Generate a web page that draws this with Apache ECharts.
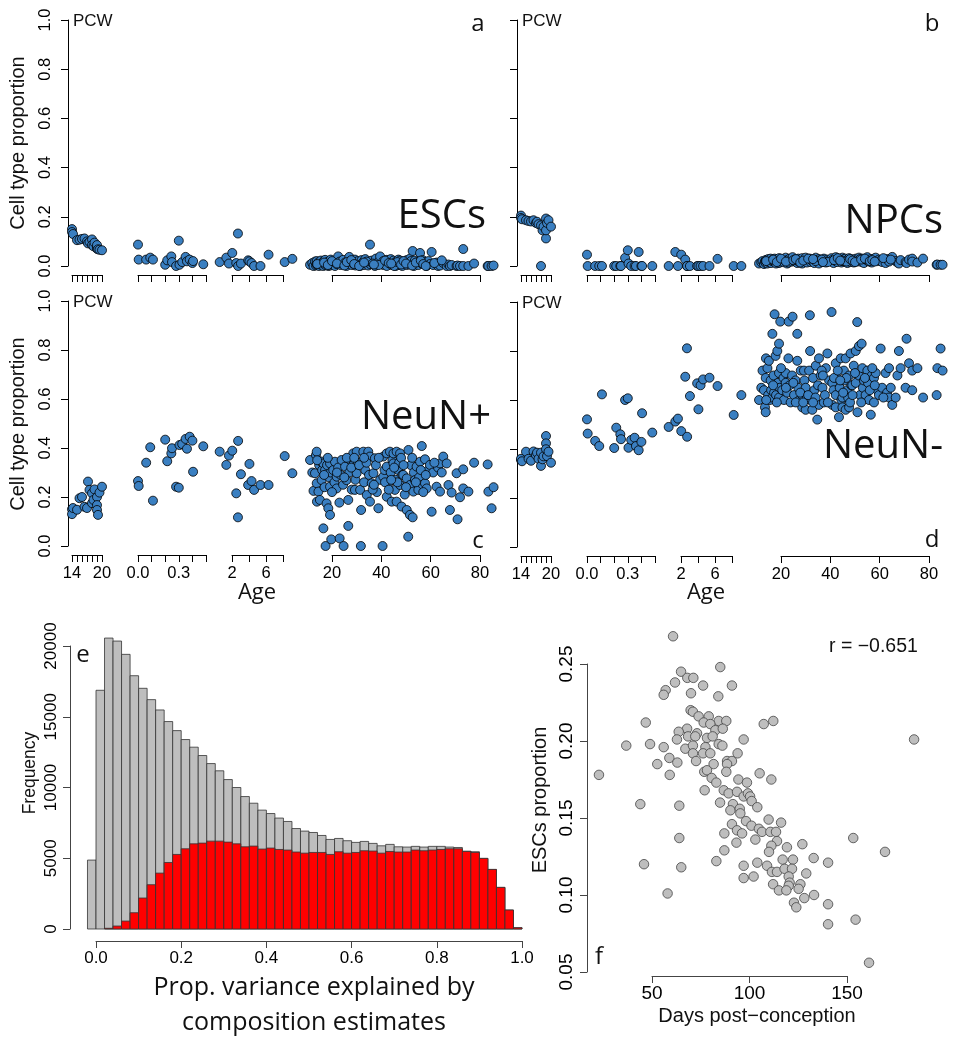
<!DOCTYPE html>
<html><head><meta charset="utf-8">
<script src="https://cdn.jsdelivr.net/npm/echarts@6/dist/echarts.min.js"></script>
<style>html,body{margin:0;padding:0;background:#fff}#chart{width:967px;height:1050px}</style>
</head><body><div id="chart"></div>
<script>
// ---------- Panels a-d : sample ages per age segment ----------
const pcwAge = [14, 14, 14.2, 15, 15.5, 16, 16.5, 17, 17.2, 17.5, 18, 18, 18.3, 18.5, 19, 19, 19, 19.2, 19.5, 20];
const infAge = [0.0, 0.005, 0.06, 0.09, 0.11, 0.2, 0.215, 0.245, 0.25, 0.28, 0.3, 0.305, 0.325, 0.35, 0.36, 0.38, 0.4, 0.405, 0.48];
const childAge = [0.55, 1.33, 1.64, 2.03, 2.5, 2.7, 2.72, 3.05, 3.9, 4.05, 4.3, 4.6, 5.35, 6.3, 8.2, 9.1];
const adultAge = [11.1,12.0,12.5,13.1,13.5,13.8,13.8,13.9,14.5,14.8, 15.1,15.5,15.8,16.0,16.5,16.5,17.0,17.2,17.8,17.4,
 18.0,18.5,18.8,19.2,19.2,19.2,19.5,19.7,20.5,21.0, 21.2,21.9,21.9,22.5,23.0,23.5,23.1,23.9,24.5,24.7,
 25.3,25.9,26.6,26.6,27.0,27.5,28.0,28.6,28.6,29.3, 29.5,30.0,30.0,30.5,31.4,31.8,32.0,31.7,32.7,33.0,
 33.5,34.1,34.7,35.0,35.4,35.4,36.1,36.8,37.4,37.8, 38.2,38.8,39.5,40.5,40.8,40.8,41.3,42.2,42.2,42.2,
 42.8,43.5,43.8,44.2,44.5,44.9,44.9,45.5,45.8,46.2, 46.2,46.9,47.2,47.6,47.6,48.2,48.5,48.9,49.5,50.3,
 50.3,50.9,51.0,51.6,51.6,52.0,52.7,53.0,53.2,53.6, 54.3,55.0,55.3,55.7,56.4,56.8,57.7,57.7,58.4,59.1,
 59.7,60.4,61.0,62.4,63.0,63.8,63.8,65.1,66.5,67.2, 67.8,68.5,70.5,70.9,71.9,73.2,73.2,75.3,77.6,83.1,
 83.4,84.7,14.0,16.8,18.3,20.0,22.0,25.0,26.0,27.8, 29.0,31.0,34.0,36.5,39.0,41.5,43.0,45.2,46.5,48.0,
 49.0,50.0,52.5,54.0,56.0,57.0,58.0,61.5,64.5,44.0, 37.0,33.0,85.5];

// ESCs (panel a)
const pcwESC = [0.150,0.138,0.130,0.105,0.107,0.110,0.112,0.100,0.092,0.098,0.108,0.085,0.080,0.095,0.075,0.070,0.085,0.068,0.066,0.064];
const infESC = [0.087,0.026,0.026,0.034,0.026,0.005,0.023,0.039,0.016,0.000,0.103,0.005,0.016,0.037,0.019,0.026,0.012,0.020,0.007];
const childESC = [0.016,0.034,0.010,0.053,0.012,0.132,0.000,0.010,0.023,0.019,0.012,0.000,0.000,0.046,0.016,0.029];
const adultESC = [0.005,0.012,0.000,0.018,0.002,0.010,0.020,0.004,0.015,0.000, 0.008,0.022,0.003,0.012,0.000,0.018,0.006,0.025,0.010,0.004,
 0.015,0.000,0.020,0.008,0.012,0.002,0.026,0.010,0.005,0.016, 0.000,0.022,0.008,0.039,0.012,0.004,0.018,0.010,0.025,0.006,
 0.014,0.000,0.020,0.008,0.037,0.012,0.004,0.018,0.010,0.026, 0.002,0.015,0.008,0.020,0.000,0.012,0.024,0.006,0.016,0.004,
 0.028,0.010,0.002,0.018,0.087,0.008,0.022,0.012,0.000,0.030, 0.006,0.016,0.039,0.010,0.004,0.020,0.012,0.025,0.008,0.000,
 0.018,0.010,0.028,0.004,0.016,0.022,0.006,0.012,0.000,0.020, 0.010,0.026,0.004,0.014,0.022,0.008,0.000,0.018,0.010,0.024,
 0.004,0.012,0.016,0.030,0.006,0.020,0.061,0.010,0.000,0.022, 0.014,0.004,0.018,0.053,0.010,0.024,0.006,0.016,0.000,0.020,
 0.008,0.057,0.004,0.014,0.000,0.010,0.002,0.012,0.000,0.006, 0.000,0.004,0.000,0.002,0.000,0.069,0.000,0.000,0.010,0.000,
 0.000,0.000,0.008,0.014,0.004,0.020,0.010,0.002,0.016,0.024, 0.008,0.000,0.018,0.010,0.004,0.022,0.012,0.000,0.016,0.006,
 0.020,0.010,0.002,0.014,0.022,0.008,0.000,0.012,0.023,0.010, 0.006,0.014,0.002];

// NPCs (panel b)
const pcwNPC = [0.205,0.195,0.190,0.186,0.183,0.181,0.186,0.175,0.180,0.170,0.165,0.000,0.145,0.160,0.193,0.112,0.145,0.175,0.186,0.160];
const infNPC = [0.046,0.000,0.000,0.000,0.000,0.000,0.000,0.000,0.000,0.033,0.064,0.010,0.000,0.000,0.000,0.057,0.000,0.000,0.000];
const childNPC = [0.000,0.057,0.000,0.046,0.026,0.000,0.000,0.000,0.000,0.000,0.000,0.000,0.000,0.029,0.000,0.000];
const adultNPC = [0.010,0.015,0.020,0.008,0.018,0.022,0.012,0.025,0.010,0.028, 0.015,0.020,0.030,0.012,0.025,0.020,0.018,0.022,0.014,0.030,
 0.010,0.026,0.016,0.020,0.032,0.012,0.024,0.018,0.028,0.020, 0.015,0.034,0.022,0.010,0.026,0.030,0.014,0.024,0.018,0.036,
 0.020,0.028,0.012,0.022,0.030,0.016,0.024,0.010,0.032,0.020, 0.026,0.018,0.034,0.014,0.028,0.022,0.016,0.030,0.020,0.026,
 0.012,0.034,0.022,0.018,0.010,0.028,0.024,0.016,0.030,0.020, 0.014,0.026,0.022,0.032,0.018,0.024,0.012,0.028,0.036,0.020,
 0.016,0.030,0.022,0.026,0.014,0.034,0.020,0.028,0.018,0.024, 0.030,0.012,0.026,0.020,0.032,0.016,0.028,0.022,0.014,0.030,
 0.020,0.026,0.018,0.034,0.022,0.028,0.016,0.024,0.030,0.012, 0.026,0.036,0.020,0.018,0.028,0.014,0.030,0.024,0.034,0.020,
 0.026,0.022,0.016,0.012,0.028,0.022,0.018,0.037,0.020,0.014, 0.010,0.024,0.016,0.012,0.026,0.030,0.018,0.014,0.030,0.005,
 0.006,0.005,0.020,0.026,0.016,0.030,0.018,0.024,0.028,0.014, 0.022,0.030,0.020,0.026,0.016,0.024,0.032,0.020,0.018,0.028,
 0.022,0.016,0.026,0.030,0.020,0.024,0.018,0.032,0.026,0.022, 0.016,0.028,0.005];

// NeuN+ (panel c)
const pcwNeuNpos = [0.150,0.130,0.155,0.148,0.195,0.200,0.160,0.155,0.263,0.229,0.175,0.215,0.188,0.231,0.200,0.167,0.147,0.127,0.218,0.242];
const infNeuNpos = [0.265,0.245,0.340,0.403,0.185,0.434,0.346,0.378,0.399,0.242,0.238,0.412,0.416,0.437,0.397,0.446,0.430,0.303,0.407];
const childNeuNpos = [0.385,0.331,0.369,0.389,0.215,0.117,0.429,0.293,0.249,0.335,0.265,0.229,0.249,0.249,0.367,0.297];
const adultNeuNpos = [0.351,0.300,0.225,0.297,0.371,0.385,0.256,0.181,0.222,0.330, 0.188,0.345,0.269,0.310,0.337,0.072,0.240,0.310,0.174,0.000,
 0.330,0.154,0.280,0.127,0.337,0.242,0.300,0.027,0.310,0.260, 0.344,0.283,0.235,0.320,0.177,0.290,0.031,0.351,0.250,0.000,
 0.324,0.269,0.188,0.082,0.300,0.350,0.230,0.378,0.331,0.229, 0.270,0.385,0.297,0.340,0.229,0.147,0.344,0.000,0.385,0.260,
 0.310,0.208,0.385,0.290,0.365,0.181,0.256,0.297,0.358,0.330, 0.220,0.154,0.270,0.000,0.365,0.283,0.310,0.378,0.324,0.201,
 0.256,0.385,0.300,0.181,0.350,0.378,0.337,0.229,0.270,0.385, 0.181,0.310,0.340,0.378,0.249,0.161,0.290,0.290,0.210,0.276,
 0.147,0.038,0.392,0.249,0.127,0.330,0.117,0.222,0.300,0.269, 0.324,0.229,0.280,0.344,0.408,0.250,0.354,0.256,0.235,0.310,
 0.331,0.140,0.300,0.242,0.320,0.337,0.222,0.365,0.337,0.249, 0.147,0.218,0.297,0.109,0.199,0.313,0.235,0.222,0.340,0.333,
 0.222,0.154,0.350,0.290,0.360,0.220,0.300,0.280,0.360,0.320, 0.360,0.330,0.340,0.230,0.360,0.260,0.230,0.320,0.260,0.360,
 0.330,0.240,0.360,0.260,0.310,0.220,0.290,0.340,0.300,0.270, 0.250,0.360,0.240];

// NeuN- (panel d)
const pcwNeuNneg = [0.355,0.360,0.350,0.389,0.360,0.352,0.390,0.375,0.385,0.360,0.331,0.385,0.358,0.370,0.453,0.423,0.399,0.371,0.389,0.344];
const infNeuNneg = [0.521,0.463,0.433,0.412,0.623,0.404,0.487,0.460,0.440,0.600,0.607,0.405,0.437,0.446,0.412,0.395,0.429,0.546,0.467];
const childNeuNneg = [0.490,0.512,0.524,0.473,0.695,0.811,0.450,0.616,0.668,0.562,0.660,0.684,0.691,0.657,0.539,0.620];
const adultNeuNneg = [0.600,0.650,0.720,0.640,0.570,0.550,0.690,0.770,0.730,0.620, 0.760,0.600,0.680,0.640,0.610,0.870,0.700,0.630,0.780,0.950,
 0.620,0.800,0.670,0.830,0.610,0.710,0.650,0.920,0.640,0.690, 0.600,0.670,0.710,0.630,0.770,0.660,0.920,0.590,0.700,0.940,
 0.620,0.680,0.760,0.870,0.650,0.600,0.720,0.570,0.620,0.720, 0.680,0.560,0.650,0.610,0.720,0.800,0.600,0.946,0.560,0.690,
 0.640,0.740,0.520,0.660,0.580,0.770,0.700,0.650,0.590,0.620, 0.730,0.790,0.680,0.959,0.580,0.670,0.640,0.570,0.620,0.750,
 0.690,0.530,0.650,0.770,0.600,0.570,0.610,0.720,0.680,0.560, 0.770,0.640,0.610,0.570,0.700,0.790,0.660,0.660,0.740,0.670,
 0.800,0.918,0.550,0.700,0.820,0.620,0.830,0.730,0.650,0.680, 0.620,0.720,0.670,0.600,0.540,0.700,0.590,0.690,0.710,0.640,
 0.620,0.810,0.650,0.710,0.630,0.610,0.730,0.580,0.610,0.700, 0.800,0.730,0.650,0.850,0.750,0.640,0.720,0.730,0.610,0.620,
 0.730,0.810,0.600,0.660,0.590,0.730,0.650,0.670,0.590,0.630, 0.590,0.620,0.610,0.720,0.590,0.690,0.720,0.630,0.690,0.590,
 0.620,0.710,0.590,0.690,0.640,0.730,0.660,0.610,0.650,0.680, 0.700,0.590,0.720];

// ---------- Panel e : histogram (bins of width 0.02) ----------
const histBinStart = [-0.02,0.00,0.02,0.04,0.06,0.08,0.10,0.12,0.14,0.16,0.18,0.20,0.22,0.24,0.26,0.28,0.30,0.32,0.34,0.36,
 0.38,0.40,0.42,0.44,0.46,0.48,0.50,0.52,0.54,0.56,0.58,0.60,0.62,0.64,0.66,0.68,0.70,0.72,0.74,0.76,
 0.78,0.80,0.82,0.84,0.86,0.88,0.90,0.92,0.94,0.96,0.98];
const histAll = [4870,16870,20560,20350,19410,17900,17010,16210,15480,14660, 14020,13390,12850,12260,11690,11180,10560,10000,9360,8890,
 8400,8160,7840,7600,7100,6920,6820,6610,6330,6400, 6240,6120,6190,6050,5880,5980,5810,5790,5840,5790,
 5840,5840,5790,5760,5500,5460,4990,4210,2940,1340, 90];
const histSig = [0,0,50,210,560,1150,2190,3130,3950,4700, 5270,5670,6020,6070,6210,6210,6140,6020,5810,5860,
 5650,5720,5620,5580,5440,5360,5410,5410,5270,5460, 5360,5410,5530,5510,5360,5480,5440,5440,5580,5530,
 5580,5620,5670,5670,5480,5410,4990,4210,2940,1340, 90];

// ---------- Panel f : ESC proportion vs days post-conception ----------
const dpcDays = [60.8,85.0,64.9,68.1,71.2,61.8,76.2,91.0,57.0,56.0, 70.0,84.0,69.8,71.0,46.8,107.3,112.2,73.9,79.1,84.2,
 88.1,76.5,79.9,68.0,63.7,73.1,82.5,86.3,68.5,72.2, 78.2,81.1,62.8,97.0,184.4,36.8,49.0,56.0,67.1,71.0,
 77.4,84.2,86.1,58.9,52.7,63.0,71.0,76.2,79.9,72.6, 81.6,88.5,91.0,93.9,88.5,22.8,59.1,76.8,78.2,88.1,
 105.2,111.2,80.6,83.0,94.3,98.7,77.0,86.8,89.3,93.6, 97.0,99.2,100.3,101.1,44.0,64.0,84.9,91.5,90.2,95.0,
 104.0,95.3,109.8,116.2,98.2,91.0,101.0,104.8,87.1,93.6, 96.2,106.4,110.7,113.6,64.0,93.3,103.0,114.1,153.2,111.2,
 110.0,119.2,127.1,169.5,87.1,83.0,45.9,65.0,97.0,104.0, 109.0,117.0,122.3,132.9,140.3,111.5,114.1,118.0,121.8,97.0,
 102.1,129.1,120.1,112.1,120.6,126.1,115.1,120.1,125.2,118.9, 58.0,128.1,133.1,122.8,124.0,140.3,140.3,154.4,161.3];
const dpcESC = [0.268,0.248,0.245,0.241,0.241,0.238,0.236,0.236,0.233,0.230, 0.231,0.229,0.220,0.219,0.212,0.211,0.213,0.216,0.216,0.213,
 0.213,0.212,0.211,0.208,0.206,0.205,0.207,0.208,0.203,0.203, 0.202,0.203,0.201,0.201,0.201,0.197,0.198,0.196,0.195,0.197,
 0.196,0.198,0.197,0.189,0.185,0.186,0.192,0.192,0.192,0.187, 0.185,0.187,0.187,0.192,0.185,0.178,0.178,0.180,0.181,0.180,
 0.179,0.175,0.176,0.173,0.175,0.173,0.168,0.168,0.166,0.167, 0.164,0.166,0.164,0.161,0.159,0.158,0.160,0.159,0.155,0.156,
 0.157,0.153,0.149,0.147,0.148,0.146,0.145,0.143,0.140,0.142, 0.140,0.141,0.141,0.141,0.137,0.134,0.136,0.135,0.137,0.132,
 0.128,0.131,0.133,0.128,0.129,0.122,0.120,0.118,0.119,0.121, 0.119,0.123,0.123,0.124,0.121,0.115,0.115,0.117,0.117,0.111,
 0.112,0.114,0.112,0.107,0.108,0.107,0.103,0.106,0.104,0.103, 0.101,0.098,0.100,0.095,0.092,0.094,0.081,0.084,0.056];

// ---------- layout / styling ----------
const SANS = '"Liberation Sans", Arial, sans-serif';
const DISP = '"Open Sans", "Noto Sans", sans-serif';
const AX = '#000';
const grids = [], xAxes = [], yAxes = [], series = [], graphics = [];

const segments = [
  {ages: pcwAge, x0: 72, x1: 102, min: 14, max: 20, interval: 1,
   fmt: v => (v === 14 || v === 20) ? String(v) : ''},
  {ages: infAge, x0: 138, x1: 206, min: 0, max: 0.5, interval: 0.1,
   fmt: v => Math.abs(v) < 1e-9 ? '0.0' : (Math.abs(v - 0.3) < 1e-9 ? '0.3' : '')},
  {ages: childAge, x0: 232, x1: 283, min: 2, max: 8, interval: 2,
   fmt: v => (v === 2 || v === 6) ? String(v) : ''},
  {ages: adultAge, x0: 332, x1: 480, min: 20, max: 80, interval: 20, fmt: v => String(v)}
];

const panels = [
  {dx: 0,   top: 20,  h: 246, vals: [pcwESC, infESC, childESC, adultESC], yLab: true,  xLab: false},
  {dx: 449, top: 20,  h: 246, vals: [pcwNPC, infNPC, childNPC, adultNPC], yLab: false, xLab: false},
  {dx: 0,   top: 301, h: 245, vals: [pcwNeuNpos, infNeuNpos, childNeuNpos, adultNeuNpos], yLab: true, xLab: true},
  {dx: 449, top: 302, h: 245, vals: [pcwNeuNneg, infNeuNneg, childNeuNneg, adultNeuNneg], yLab: false, xLab: true}
];

panels.forEach(p => {
  segments.forEach((s, j) => {
    const gi = grids.length;
    grids.push({left: s.x0 + p.dx, top: p.top, width: s.x1 - s.x0, height: p.h, containLabel: false});
    xAxes.push({type: 'value', gridIndex: gi, min: s.min, max: s.max, interval: s.interval, offset: 9,
      axisLine: {show: true, onZero: false, lineStyle: {color: AX, width: 1}},
      axisTick: {show: true, length: 7, lineStyle: {color: AX, width: 1}},
      axisLabel: {show: p.xLab, formatter: s.fmt, fontSize: 16.5, fontFamily: SANS, color: '#000', margin: 10,
                  showMinLabel: true, showMaxLabel: true},
      splitLine: {show: false}});
    yAxes.push({type: 'value', gridIndex: gi, min: 0, max: 1, interval: 0.2, show: j === 0, offset: 4,
      axisLine: {show: true, onZero: false, lineStyle: {color: AX, width: 1}},
      axisTick: {show: true, length: 7, lineStyle: {color: AX, width: 1}},
      axisLabel: {show: p.yLab, rotate: 90, formatter: v => v.toFixed(1), fontSize: 16.5, fontFamily: SANS,
                  color: '#000', margin: 14},
      splitLine: {show: false}});
    series.push({type: 'scatter', xAxisIndex: gi, yAxisIndex: gi, clip: false, silent: true,
      data: s.ages.map((a, i) => [a, p.vals[j][i]]), symbolSize: 9,
      itemStyle: {color: '#3a7fc1', borderColor: '#000', borderWidth: 0.8, opacity: 1}});
  });
});

// Panel e
const ge = grids.length;
grids.push({left: 96, top: 646, width: 426, height: 283, containLabel: false});
xAxes.push({type: 'value', gridIndex: ge, min: 0, max: 1, interval: 0.2, offset: 12,
  axisLine: {show: true, onZero: false, lineStyle: {color: '#444'}},
  axisTick: {show: true, length: 7, lineStyle: {color: '#444'}},
  axisLabel: {formatter: v => v.toFixed(1), fontSize: 17, fontFamily: SANS, color: '#000', margin: 9},
  splitLine: {show: false}});
yAxes.push({type: 'value', gridIndex: ge, min: 0, max: 20000, interval: 5000, offset: 26,
  axisLine: {show: true, onZero: false, lineStyle: {color: '#444'}},
  axisTick: {show: true, length: 7, lineStyle: {color: '#444'}},
  axisLabel: {rotate: 90, formatter: v => String(v), fontSize: 17, fontFamily: SANS, color: '#000', margin: 10},
  splitLine: {show: false}});
function histSeries(vals, fill) {
  return {type: 'custom', xAxisIndex: ge, yAxisIndex: ge, clip: false, silent: true,
    data: histBinStart.map((b, i) => [b, vals[i]]),
    renderItem: (params, api) => {
      const x0 = api.value(0), v = api.value(1);
      if (!(v > 0)) return null;
      const p0 = api.coord([x0, 0]);
      const p1 = api.coord([x0 + 0.02, v]);
      return {type: 'rect', shape: {x: p0[0], y: p1[1], width: p1[0] - p0[0], height: p0[1] - p1[1]},
        style: {fill: fill, stroke: '#333', lineWidth: 0.8}};
    }};
}
series.push(histSeries(histAll, '#bebebe'));
series.push(histSeries(histSig, '#ff0000'));

// Panel f
const gf = grids.length;
grids.push({left: 652, top: 664, width: 195, height: 308, containLabel: false});
xAxes.push({type: 'value', gridIndex: gf, min: 50, max: 150, interval: 50, offset: 4,
  axisLine: {show: true, onZero: false, lineStyle: {color: '#444'}},
  axisTick: {show: true, length: 7, lineStyle: {color: '#444'}},
  axisLabel: {fontSize: 19, fontFamily: SANS, color: '#000', margin: 8},
  splitLine: {show: false}});
yAxes.push({type: 'value', gridIndex: gf, min: 0.05, max: 0.25, interval: 0.05, offset: 65,
  axisLine: {show: true, onZero: false, lineStyle: {color: '#444'}},
  axisTick: {show: true, length: 7, lineStyle: {color: '#444'}},
  axisLabel: {rotate: 90, formatter: v => v.toFixed(2), fontSize: 19, fontFamily: SANS, color: '#000', margin: 11},
  splitLine: {show: false}});
series.push({type: 'scatter', xAxisIndex: gf, yAxisIndex: gf, clip: false, silent: true,
  data: dpcDays.map((d, i) => [d, dpcESC[i]]), symbolSize: 9.5,
  itemStyle: {color: '#bebebe', borderColor: '#444', borderWidth: 0.8, opacity: 1}});

// ---------- texts ----------
function txt(t, x, y, size, fam, align, valign, rot) {
  graphics.push({type: 'text', x: x, y: y, rotation: rot || 0, silent: true,
    style: {text: t, fontSize: size, fontFamily: fam, fill: '#111', align: align || 'center', verticalAlign: valign || 'middle'}});
}
const R = Math.PI / 2;
txt('Cell type proportion', 18, 143, 20, SANS, 'center', 'middle', R);
txt('Cell type proportion', 18, 424, 20, SANS, 'center', 'middle', R);
txt('PCW', 73, 21, 17, SANS, 'left');
txt('PCW', 522, 21, 17, SANS, 'left');
txt('PCW', 73, 302, 17, SANS, 'left');
txt('PCW', 522, 303, 17, SANS, 'left');
txt('a', 478, 24, 24, DISP);
txt('b', 932, 24, 24, DISP);
txt('c', 478, 541, 24, DISP);
txt('d', 932, 540, 24, DISP);
txt('ESCs', 486, 217, 40, DISP, 'right');
txt('NPCs', 943, 222, 40, DISP, 'right');
txt('NeuN+', 361, 418, 40, DISP, 'left');
txt('NeuN-', 823, 447, 40, DISP, 'left');
txt('Age', 257, 593, 22, DISP);
txt('Age', 706, 593, 22, DISP);
txt('e', 83, 655, 24, DISP);
txt('f', 599, 957, 24, DISP);
txt('Frequency', 30, 773, 17.5, SANS, 'center', 'middle', R);
txt('Prop. variance explained by', 314, 988, 25, DISP);
txt('composition estimates', 314, 1023, 25, DISP);
txt('ESCs proportion', 540, 800, 20, SANS, 'center', 'middle', R);
txt('Days post\u2212conception', 757, 1016, 20, SANS);
txt('r = \u22120.651', 829, 647, 19.5, SANS, 'left');

const chart = echarts.init(document.getElementById('chart'), null, {renderer: 'canvas'});
chart.setOption({
  animation: false,
  backgroundColor: '#fff',
  grid: grids, xAxis: xAxes, yAxis: yAxes, series: series, graphic: graphics
});
</script>
</body></html>
